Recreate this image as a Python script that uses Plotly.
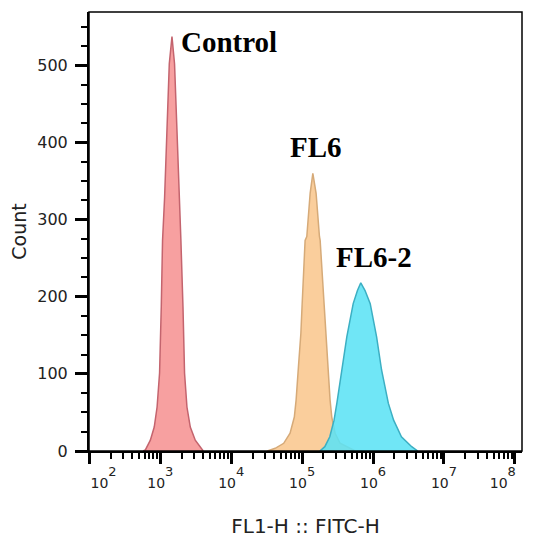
import plotly.graph_objects as go

# ---- data (log10 of FL1-H intensity, event count) ----
control_log = [2.76, 2.79, 2.86, 2.915, 2.955, 2.99, 3.014, 3.032, 3.061, 3.094, 3.127, 3.165,
               3.201, 3.235, 3.263, 3.29, 3.32, 3.342, 3.376, 3.423, 3.493, 3.587, 3.606]
control_count = [0, 1.5, 14, 31, 57, 101, 187, 273, 329, 416, 502, 537,
                 502, 416, 329, 275, 187, 101, 57, 31, 14, 1.5, 0]

fl6_log = [4.51, 4.62, 4.74, 4.83, 4.89, 4.915, 4.948, 4.982, 5.00, 5.042, 5.066, 5.113, 5.151,
           5.197, 5.244, 5.254, 5.31, 5.334, 5.362, 5.394, 5.418, 5.465, 5.535, 5.676, 5.75]
fl6_count = [0, 3.5, 10, 23, 44, 66, 109, 152, 190, 273, 278, 334, 360,
             334, 278, 273, 190, 152, 109, 66, 44, 23, 10, 3.5, 0]

fl62_log = [5.25, 5.32, 5.39, 5.45, 5.49, 5.56, 5.63, 5.72, 5.78, 5.827,
            5.887, 5.96, 6.05, 6.12, 6.215, 6.29, 6.40, 6.545, 6.63]
fl62_count = [0, 5.6, 18.5, 40, 62, 105, 148, 191, 208, 218,
              208, 191, 148, 105, 62, 40, 18.5, 5.6, 0]

series_names = ["Control", "FL6", "FL6-2"]
x_decades = [2, 3, 4, 5, 6, 7, 8]
x_tick_labels = ['10<sup><span style="font-size:13px;baseline-shift:6px">%d</span></sup>' % d
                 for d in x_decades]
y_ticks = [0, 100, 200, 300, 400, 500]

fig = go.Figure()

styles = [
    dict(line="rgb(196,100,110)", fill="rgba(246,152,152,0.92)"),
    dict(line="rgb(214,170,120)", fill="rgba(250,202,148,0.92)"),
    dict(line="rgb(60,175,195)", fill="rgba(92,226,245,0.88)"),
]
datasets = [(control_log, control_count), (fl6_log, fl6_count), (fl62_log, fl62_count)]
for name, (lg, cnt), st in zip(series_names, datasets, styles):
    fig.add_trace(go.Scatter(
        x=[10 ** v for v in lg], y=cnt, name=name, mode="lines",
        line=dict(color=st["line"], width=1.5), fill="tozeroy", fillcolor=st["fill"],
        showlegend=False, hoverinfo="skip"))

# invisible helper so the label axis is rendered
fig.add_trace(go.Scatter(x=[10 ** x_decades[0]], y=[0], xaxis="x2", mode="markers",
                         marker=dict(opacity=0), showlegend=False, hoverinfo="skip"))

minor_vals = [m * 10 ** k for k in range(2, 8) for m in range(2, 10)]
xr = [1.995, 8.1]

# page body has an 8px margin, so the figure is sized/offset to compensate
fig.update_layout(
    width=517, height=530,
    margin=dict(l=81, r=3, t=4, b=87, autoexpand=False),
    plot_bgcolor="white", paper_bgcolor="white",
    font=dict(family="DejaVu Sans", color="#222"),
    xaxis=dict(
        type="log", range=xr, showgrid=False, zeroline=False, automargin=False,
        showline=True, linecolor="black", linewidth=2,
        tickmode="array", tickvals=[10 ** d for d in x_decades], showticklabels=False,
        ticks="outside", ticklen=11, tickwidth=3, tickcolor="black",
        minor=dict(tickmode="array", tickvals=minor_vals, ticks="outside",
                   ticklen=6, tickwidth=1.5, tickcolor="black", showgrid=False),
        title=dict(text="FL1-H :: FITC-H", font=dict(size=20, color="#222"), standoff=63),
    ),
    xaxis2=dict(
        type="log", range=xr, overlaying="x", side="bottom", showgrid=False, zeroline=False,
        automargin=False, tickmode="array",
        tickvals=[10 ** 2.2, 10 ** 3, 10 ** 4, 10 ** 5, 10 ** 6, 10 ** 7, 10 ** 7.83],
        ticktext=x_tick_labels, ticks="", ticklabelstandoff=22,
        tickfont=dict(size=14, color="#222"),
    ),
    yaxis=dict(
        range=[0, 569], showgrid=False, zeroline=False, automargin=False,
        showline=True, linecolor="black", linewidth=2,
        tickmode="array", tickvals=y_ticks,
        ticks="outside", ticklen=12, tickwidth=3, tickcolor="black",
        minor=dict(dtick=25, ticks="outside", ticklen=6, tickwidth=1.5,
                   tickcolor="black", showgrid=False),
        tickfont=dict(size=16, color="#222"), ticklabelstandoff=4,
        title=dict(text="Count", font=dict(size=19, color="#222"), standoff=8),
    ),
    shapes=[dict(type="rect", xref="paper", yref="paper", x0=0, y0=0, x1=1, y1=1,
                 line=dict(color="black", width=1.5), layer="above")],
)

ann_font = dict(family="Liberation Serif", size=29, color="black")
# annotation x on a log axis is given in log10 units
ann_positions = [(3.26, 530, "left"), (5.20, 394, "center"), (6.02, 251, "center")]
for name, (ax, ay, anc) in zip(series_names, ann_positions):
    fig.add_annotation(x=ax, y=ay, xref="x", yref="y", text="<b>%s</b>" % name,
                       showarrow=False, font=ann_font, xanchor=anc, yanchor="middle")

fig.write_html("out.html")
